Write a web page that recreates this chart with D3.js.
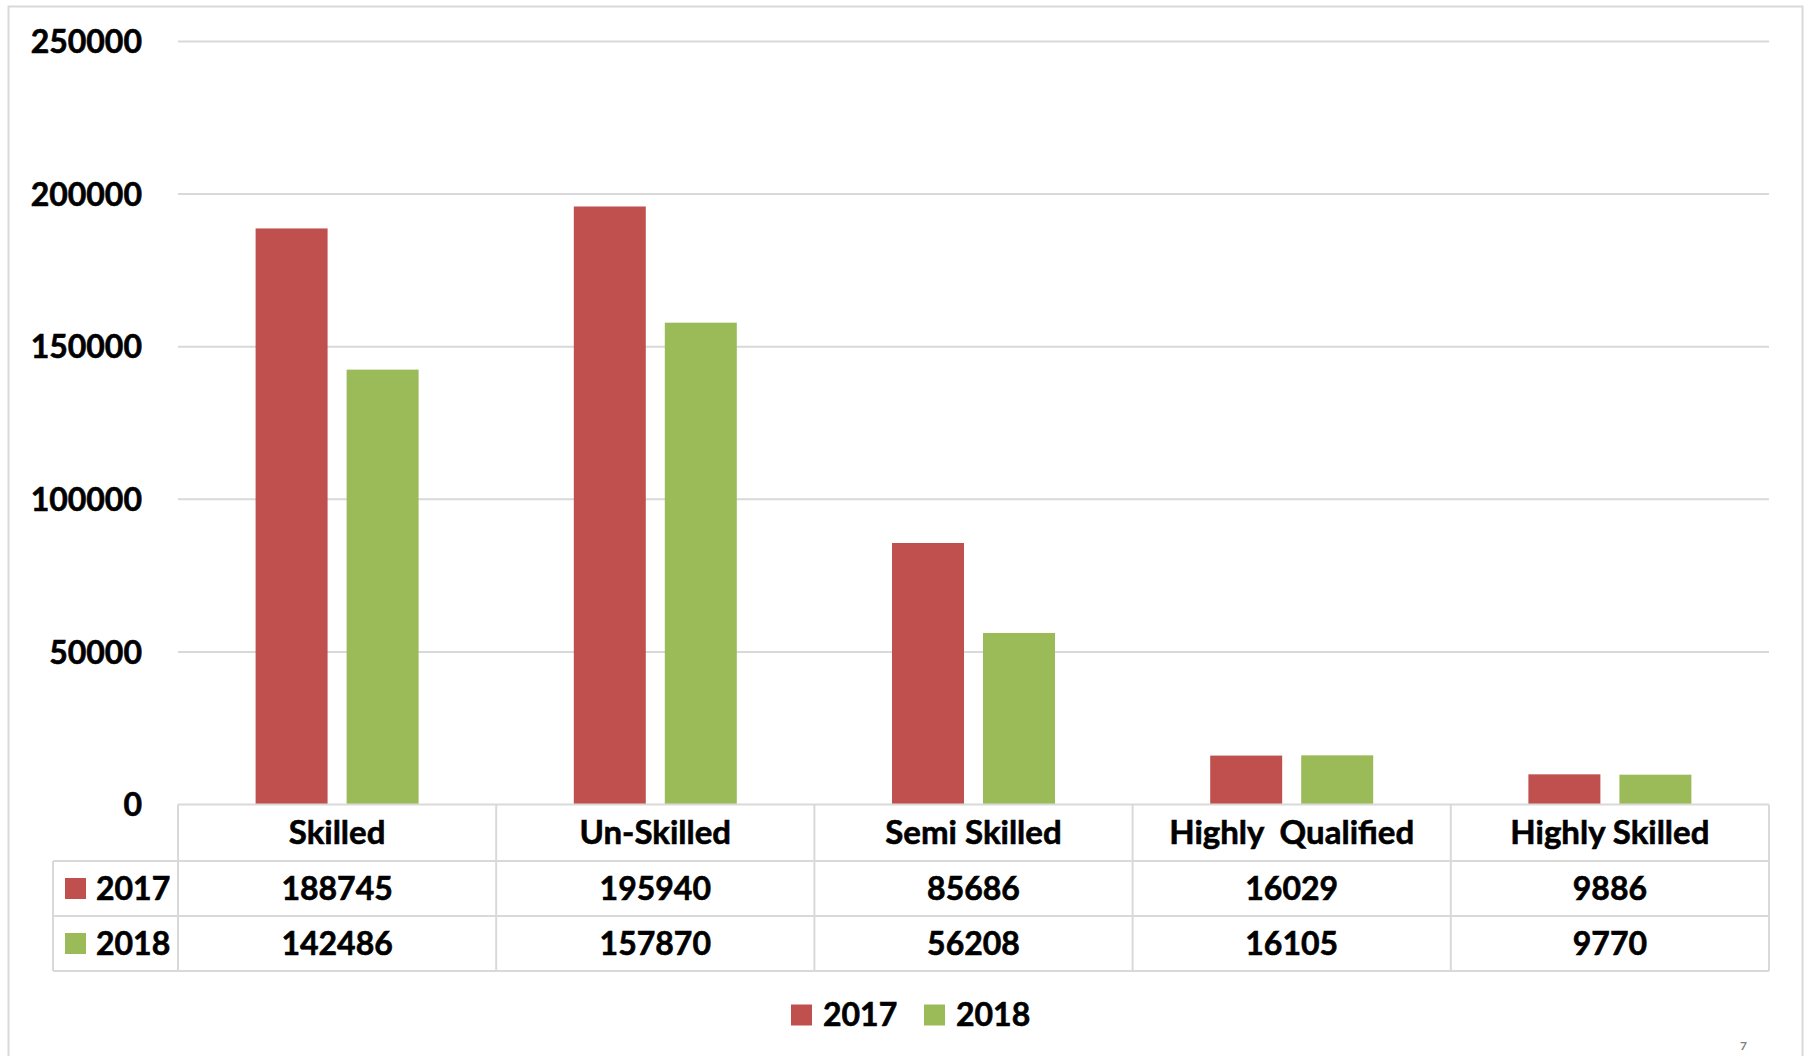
<!DOCTYPE html>
<html>
<head>
<meta charset="utf-8">
<script src="https://cdn.jsdelivr.net/npm/d3@7"></script>
<style>
  html, body { margin: 0; padding: 0; background: #fff; }
  svg { display: block; }
  text { font-family: Lato, "Open Sans", sans-serif; font-weight: 700; fill: #000; stroke: #000; stroke-width: 0.6px; }
</style>
</head>
<body>
<svg id="chart" width="1805" height="1056"></svg>
<script>
// Workforce by skill level, 2017 vs 2018
const categories = ["Skilled", "Un-Skilled", "Semi Skilled", "Highly  Qualified", "Highly Skilled"];
const seriesNames = ["2017", "2018"];
const values2017 = [188745, 195940, 85686, 16029, 9886];
const values2018 = [142486, 157870, 56208, 16105, 9770];
const yTicks = [0, 50000, 100000, 150000, 200000, 250000];

const seriesValues = [values2017, values2018];
const colors = { "2017": "#C0504D", "2018": "#9BBB59" };
const gridColor = "#D9D9D9";
const fontSize = 32;

const svg = d3.select("#chart");

// Outer frame
svg.append("rect")
  .attr("x", 8.5).attr("y", 6.5)
  .attr("width", 1794).attr("height", 1070)
  .attr("fill", "none").attr("stroke", gridColor).attr("stroke-width", 2);

const plotLeft = 178, plotRight = 1769;
const y = d3.scaleLinear().domain([0, 250000]).range([804.5, 41.5]);
const x0 = d3.scaleBand().domain(categories).range([plotLeft, plotRight]);
const groupWidth = 163;
const x1 = d3.scaleBand().domain(seriesNames)
  .range([(x0.bandwidth() - groupWidth) / 2, (x0.bandwidth() + groupWidth) / 2])
  .paddingInner(0.209);

// Gridlines
svg.append("g").selectAll("line").data(yTicks.filter(t => t > 0)).join("line")
  .attr("x1", plotLeft).attr("x2", plotRight)
  .attr("y1", d => y(d)).attr("y2", d => y(d))
  .attr("stroke", gridColor).attr("stroke-width", 2);

// Y axis labels
const yAxis = d3.axisLeft(y).tickValues(yTicks).tickFormat(d3.format("d")).tickSize(0).tickPadding(0);
const yAxisG = svg.append("g").attr("transform", "translate(142,0)").call(yAxis);
yAxisG.select(".domain").remove();
yAxisG.selectAll("text")
  .attr("font-size", fontSize)
  .attr("font-family", "Lato, 'Open Sans', sans-serif")
  .attr("font-weight", 700)
  .attr("fill", "#000")
  .attr("dy", "0.35em");

// Bars
const groups = svg.append("g").selectAll("g").data(categories).join("g")
  .attr("transform", d => `translate(${x0(d)},0)`);
groups.selectAll("rect")
  .data((d, i) => seriesNames.map((s, j) => ({ s, v: seriesValues[j][i] })))
  .join("rect")
  .attr("x", d => x1(d.s))
  .attr("width", x1.bandwidth())
  .attr("y", d => y(d.v))
  .attr("height", d => y(0) - y(d.v))
  .attr("fill", d => colors[d.s]);

// Data table
const rowTop = 804.5, rowLines = [861, 916, 971];
const tableLeft = 53;
const table = svg.append("g").attr("stroke", gridColor).attr("stroke-width", 2);
table.append("line").attr("x1", plotLeft).attr("x2", plotRight).attr("y1", rowTop).attr("y2", rowTop);
rowLines.forEach(ly => {
  table.append("line").attr("x1", tableLeft).attr("x2", plotRight).attr("y1", ly).attr("y2", ly);
});
table.append("line").attr("x1", tableLeft).attr("x2", tableLeft).attr("y1", rowLines[0]).attr("y2", rowLines[2]);
const colEdges = categories.map(c => x0(c)).concat([plotRight]);
table.selectAll("line.col").data(colEdges).join("line").attr("class", "col")
  .attr("x1", d => d).attr("x2", d => d).attr("y1", rowTop).attr("y2", rowLines[2]);

// Header labels
const headerY = (rowTop + rowLines[0]) / 2;
svg.append("g").selectAll("text").data(categories).join("text")
  .attr("x", d => x0(d) + x0.bandwidth() / 2)
  .attr("y", headerY)
  .attr("dy", "0.35em")
  .attr("text-anchor", "middle")
  .attr("font-size", 33)
  .style("white-space", "pre")
  .text(d => d);

// Value rows with legend keys
seriesNames.forEach((s, j) => {
  const cy = (rowLines[j] + rowLines[j + 1]) / 2;
  svg.append("rect").attr("x", 65).attr("y", cy - 10.5).attr("width", 21).attr("height", 21)
    .attr("fill", colors[s]);
  svg.append("text").attr("x", 96).attr("y", cy).attr("dy", "0.35em")
    .attr("font-size", fontSize).text(s);
  svg.append("g").selectAll("text").data(seriesValues[j]).join("text")
    .attr("x", (d, i) => x0(categories[i]) + x0.bandwidth() / 2)
    .attr("y", cy).attr("dy", "0.35em")
    .attr("text-anchor", "middle")
    .attr("font-size", fontSize)
    .text(d => d);
});

// Legend
const legendY = 1015;
const legend = svg.append("g");
const legendX = [791, 924];
seriesNames.forEach((s, j) => {
  legend.append("rect").attr("x", legendX[j]).attr("y", legendY - 10.5)
    .attr("width", 21).attr("height", 21).attr("fill", colors[s]);
  legend.append("text").attr("x", legendX[j] + 32).attr("y", legendY).attr("dy", "0.35em")
    .attr("font-size", fontSize).text(s);
});

// Slide number at the bottom edge
svg.append("text").attr("x", 1740).attr("y", 1050)
  .attr("font-size", 12).attr("font-weight", 400)
  .style("fill", "#7f7f7f").style("stroke", "none").text("7");
</script>
</body>
</html>
